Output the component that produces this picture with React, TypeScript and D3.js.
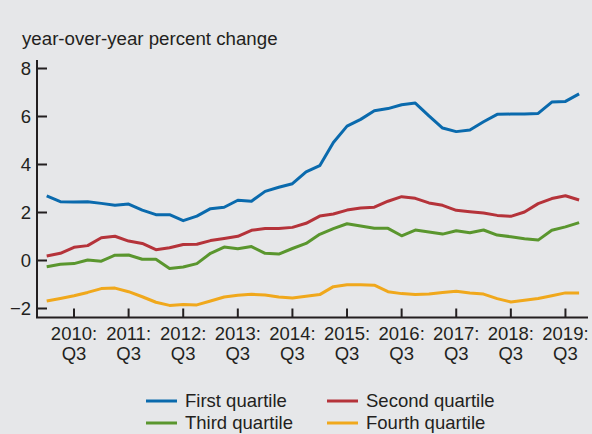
import React from "react";
import * as d3 from "d3";

const quarters: string[] = [];
for (let y = 2010; y <= 2019; y++) for (let q = 1; q <= 4; q++) quarters.push(`${y}Q${q}`);

const firstQuartile = [2.69, 2.45, 2.44, 2.45, 2.38, 2.3, 2.35, 2.1, 1.91, 1.91, 1.66, 1.85, 2.16, 2.22, 2.51, 2.47, 2.88, 3.05, 3.2, 3.69, 3.95, 4.92, 5.6, 5.88, 6.24, 6.33, 6.49, 6.56, 6.03, 5.52, 5.37, 5.44, 5.78, 6.09, 6.1, 6.1, 6.13, 6.6, 6.63, 6.94];
const secondQuartile = [0.19, 0.3, 0.55, 0.62, 0.95, 1.01, 0.81, 0.71, 0.45, 0.53, 0.67, 0.68, 0.83, 0.92, 1.01, 1.26, 1.33, 1.33, 1.38, 1.55, 1.85, 1.94, 2.1, 2.19, 2.22, 2.47, 2.66, 2.59, 2.4, 2.3, 2.09, 2.03, 1.98, 1.88, 1.84, 2.02, 2.37, 2.58, 2.7, 2.52];
const thirdQuartile = [-0.26, -0.16, -0.13, 0.02, -0.03, 0.22, 0.23, 0.05, 0.05, -0.33, -0.27, -0.13, 0.3, 0.56, 0.49, 0.58, 0.3, 0.27, 0.5, 0.71, 1.09, 1.33, 1.53, 1.44, 1.34, 1.34, 1.03, 1.27, 1.19, 1.1, 1.24, 1.16, 1.27, 1.06, 0.99, 0.91, 0.85, 1.26, 1.4, 1.58];
const fourthQuartile = [-1.69, -1.58, -1.47, -1.33, -1.17, -1.15, -1.3, -1.51, -1.74, -1.87, -1.83, -1.85, -1.69, -1.52, -1.45, -1.41, -1.44, -1.52, -1.56, -1.49, -1.42, -1.09, -1.01, -1.01, -1.03, -1.3, -1.38, -1.42, -1.4, -1.33, -1.28, -1.35, -1.4, -1.59, -1.73, -1.66, -1.58, -1.47, -1.35, -1.35];

const yTicks = [-2, 0, 2, 4, 6, 8];
const xTickYears = ["2010", "2011", "2012", "2013", "2014", "2015", "2016", "2017", "2018", "2019"];
const seriesNames = ["First quartile", "Second quartile", "Third quartile", "Fourth quartile"];
const seriesColors = ["#0a6aad", "#b5333a", "#5a962e", "#f0a81c"];

const W = 592, H = 434;
const FONT = "'Liberation Sans', Arial, Helvetica, sans-serif";
const AX = "#231f20";
const FS = 18.5;

export default function App() {
  const x = d3.scaleLinear().domain([0, quarters.length - 1]).range([46.7, 579.1]);
  const y = d3.scaleLinear().domain([-2, 8]).range([308.5, 68.5]);
  const line = d3.line<number>().x((_, i) => x(i)).y((d) => y(d));
  const all = [firstQuartile, secondQuartile, thirdQuartile, fourthQuartile];
  const axisLeft = 37, axisBottom = 317.5;
  const legend = [
    { x: 146, y: 401 },
    { x: 327, y: 401 },
    { x: 146, y: 423 },
    { x: 327, y: 423 },
  ];
  return (
    <svg width={W} height={H} style={{ position: "absolute", left: 0, top: 0, background: "#e6e7e9" }} fontFamily={FONT}>
      <rect width={W} height={H} fill="#e6e7e9" />
      <text x={22} y={45} fontSize={18.7} fill={AX}>year-over-year percent change</text>
      <line x1={axisLeft} x2={axisLeft} y1={60} y2={axisBottom} stroke={AX} strokeWidth={2} />
      {yTicks.map((t) => (
        <g key={t}>
          <line x1={axisLeft} x2={axisLeft + 10} y1={y(t)} y2={y(t)} stroke={AX} strokeWidth={2} />
          <text x={31} y={y(t)} dy="0.35em" textAnchor="end" fontSize={FS} fill={AX}>
            {t < 0 ? `\u2212${Math.abs(t)}` : t}
          </text>
        </g>
      ))}
      <line x1={axisLeft - 1} x2={588} y1={axisBottom} y2={axisBottom} stroke={AX} strokeWidth={2} />
      {xTickYears.map((yr, k) => {
        const xi = x(2 + 4 * k);
        return (
          <g key={yr}>
            <line x1={xi} x2={xi} y1={axisBottom} y2={axisBottom - 9} stroke={AX} strokeWidth={2} />
            <text x={xi} y={339.5} textAnchor="middle" fontSize={FS} fill={AX}>{yr + ":"}</text>
            <text x={xi} y={360} textAnchor="middle" fontSize={FS} fill={AX}>Q3</text>
          </g>
        );
      })}
      {all.map((s, i) => (
        <path key={i} d={line(s) || ""} fill="none" stroke={seriesColors[i]} strokeWidth={3} strokeLinejoin="round" />
      ))}
      {seriesNames.map((n, i) => (
        <g key={n}>
          <line x1={legend[i].x} x2={legend[i].x + 31} y1={legend[i].y} y2={legend[i].y} stroke={seriesColors[i]} strokeWidth={3} />
          <text x={legend[i].x + 39} y={legend[i].y + 6} fontSize={FS} fill={AX}>{n}</text>
        </g>
      ))}
    </svg>
  );
}
